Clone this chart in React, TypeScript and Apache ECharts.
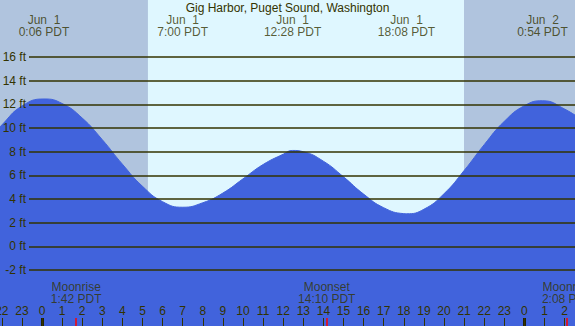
import React, { useEffect, useRef } from 'react';
import * as echarts from 'echarts';

// Tide curve (hours from Jun 1 00:00 PDT, feet)
const tideHours = [-3, -2, -1, 0.1, 1, 2, 3, 4, 5, 6, 7, 8, 9, 10, 11, 12, 12.467, 13, 14, 15, 16, 17, 18, 18.133, 19, 20, 21, 22, 23, 24, 24.9, 26, 27];
const tideFeet = [8.4, 10.25, 11.85, 12.45, 12.07, 10.84, 9.01, 6.94, 5.07, 3.77, 3.3, 3.68, 4.5, 5.7, 6.91, 7.78, 8.1, 7.99, 7.19, 5.87, 4.41, 3.26, 2.76, 2.75, 3.13, 4.44, 6.4, 8.59, 10.56, 11.88, 12.3, 11.6, 10.5];

// High / low tide labels
const extremeHours = [0.1, 7.0, 12.467, 18.133, 24.9];
const extremeLabels = ['Jun  1\n0:06 PDT', 'Jun  1\n7:00 PDT', 'Jun  1\n12:28 PDT', 'Jun  1\n18:08 PDT', 'Jun  2\n0:54 PDT'];

// Moon events
const moonHours = [1.7, 14.167, 26.133];
const moonLabels = ['Moonrise\n1:42 PDT', 'Moonset\n14:10 PDT', 'Moonrise\n2:08 PDT'];

// Daylight
const sunriseHour = 5.27;
const sunsetHour = 21.0;

// Axis ticks
const gridFeet = [-2, 0, 2, 4, 6, 8, 10, 12, 14, 16];
const midnightHours = [0, 24];
const hourMin = -3;
const hourMax = 27;
const feetMin = -8;
const feetMax = 22;

const FONT = '"Liberation Sans", Arial, sans-serif';
const INK = '#333300';
const NIGHT = '#b0c4de';
const DAY = '#dff7ff';
const WATER = '#4163dc';

export default function App() {
  const ref = useRef<HTMLDivElement>(null);
  useEffect(() => {
    if (!ref.current) return;
    const chart = echarts.init(ref.current, null, { renderer: 'svg' });
    const vert = { top: -14, bottom: -14.94 };
    const horiz = { left: -18.3, right: -9.7 };
    const labelHeader = 18.66;
    const labelMoon = -3.97;
    chart.setOption({
      animation: false,
      backgroundColor: NIGHT,
      title: {
        text: 'Gig Harbor, Puget Sound, Washington',
        left: 'center',
        top: 0,
        padding: [1, 0, 0, 0],
        z: 20,
        textStyle: { fontSize: 12, fontWeight: 'normal', color: INK, fontFamily: FONT, lineHeight: 13 },
      },
      grid: [
        { ...horiz, ...vert, outerBoundsMode: 'none' },
        { left: 29, right: 0, ...vert, outerBoundsMode: 'none' },
        { ...horiz, bottom: 0, height: 8, outerBoundsMode: 'none' },
      ],
      xAxis: [
        { type: 'value', gridIndex: 0, min: hourMin, max: hourMax, show: false },
        { type: 'value', gridIndex: 1, min: 0, max: 1, show: false },
        {
          type: 'value', gridIndex: 2, min: hourMin, max: hourMax, interval: 1, z: 10,
          axisLine: { show: false },
          splitLine: { show: false },
          axisTick: { inside: true, length: 8, lineStyle: { color: INK, width: 1 } },
          axisLabel: {
            inside: true, margin: 9, fontSize: 12, color: INK, fontFamily: FONT,
            showMinLabel: true, showMaxLabel: true, hideOverlap: false,
            formatter: (v: number) => String(((v % 24) + 24) % 24),
          },
        },
      ],
      yAxis: [
        { type: 'value', gridIndex: 0, min: feetMin, max: feetMax, show: false },
        {
          type: 'value', gridIndex: 1, min: feetMin, max: feetMax, interval: 2, z: 10,
          axisLine: { show: false }, axisTick: { show: false }, splitLine: { show: false },
          axisLabel: {
            margin: 3, fontSize: 12, color: INK, fontFamily: FONT,
            formatter: (v: number) => (gridFeet.includes(v) ? `${v} ft` : ''),
          },
        },
        { type: 'value', gridIndex: 2, min: 0, max: 1, show: false },
      ],
      series: [
        {
          type: 'line', xAxisIndex: 0, yAxisIndex: 0, data: [], z: 0, silent: true,
          markArea: {
            silent: true,
            data: [
              [{ xAxis: hourMin, itemStyle: { color: NIGHT } }, { xAxis: sunriseHour }],
              [{ xAxis: sunriseHour, itemStyle: { color: DAY } }, { xAxis: sunsetHour }],
              [{ xAxis: sunsetHour, itemStyle: { color: NIGHT } }, { xAxis: hourMax }],
            ],
          },
        },
        {
          type: 'line', xAxisIndex: 0, yAxisIndex: 0, z: 2, silent: true,
          data: tideHours.map((h, i) => [h, tideFeet[i]]),
          smooth: true, symbol: 'none',
          lineStyle: { color: WATER, width: 1 },
          areaStyle: { color: WATER, opacity: 1, origin: 'start' },
        },
        {
          type: 'line', xAxisIndex: 1, yAxisIndex: 1, data: [], z: 3, silent: true,
          markLine: {
            silent: true, symbol: ['none', 'none'], label: { show: false },
            lineStyle: { color: INK, width: 1.5, type: 'solid' },
            data: gridFeet.map((v) => ({ yAxis: v })),
          },
        },
        {
          type: 'line', xAxisIndex: 2, yAxisIndex: 2, data: [], z: 11, silent: true,
          markLine: {
            silent: true, symbol: ['none', 'none'], label: { show: false },
            data: [
              ...midnightHours.map((h) => ({ xAxis: h, lineStyle: { color: '#222200', width: 3, type: 'solid' } })),
              ...moonHours.map((h) => ({ xAxis: h, lineStyle: { color: '#ff0000', width: 1.5, type: 'solid' } })),
            ],
          },
        },
        {
          type: 'scatter', xAxisIndex: 0, yAxisIndex: 0, z: 5, silent: true, symbolSize: 0,
          data: extremeHours.map((h) => [h, labelHeader]),
          label: {
            show: true, position: 'inside', fontSize: 12, lineHeight: 12, color: INK, fontFamily: FONT,
            formatter: (p: any) => extremeLabels[p.dataIndex],
          },
        },
        {
          type: 'scatter', xAxisIndex: 0, yAxisIndex: 0, z: 5, silent: true, symbolSize: 0,
          data: moonHours.map((h) => [h, labelMoon]),
          label: {
            show: true, position: 'inside', fontSize: 12, lineHeight: 12, color: INK, fontFamily: FONT,
            formatter: (p: any) => moonLabels[p.dataIndex],
          },
        },
      ],
    });
    return () => chart.dispose();
  }, []);
  return <div ref={ref} style={{ position: 'fixed', left: 0, top: 0, width: 575, height: 326 }} />;
}
